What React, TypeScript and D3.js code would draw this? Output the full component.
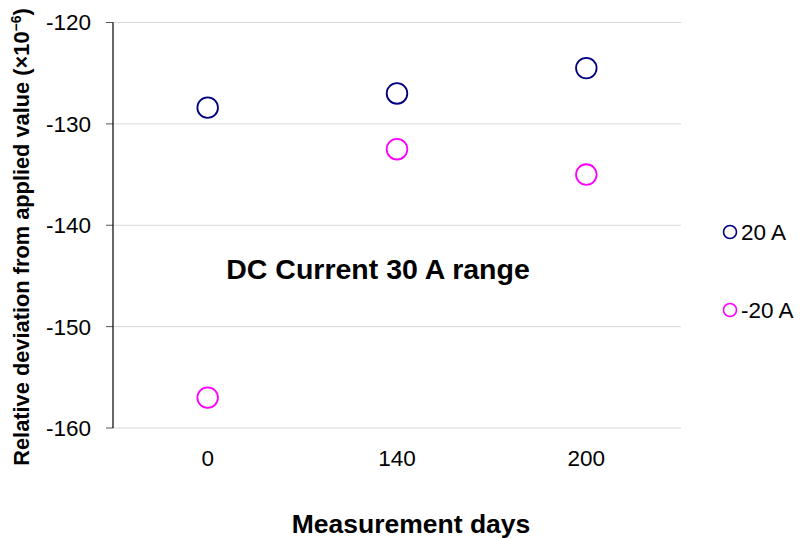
import React from "react";
import * as d3 from "d3";

const categories = ["0", "140", "200"];
const seriesNames = ["20 A", "-20 A"];
const seriesColors = ["#000080", "#FF00FF"];
const pos20 = [-128.4, -127.0, -124.5];
const neg20 = [-157.0, -132.5, -135.0];
const yTicks = [-160, -150, -140, -130, -120];

export default function App() {
  const W = 800, H = 539;
  const left = 113, right = 681, top = 22.5, bottom = 428;
  const x = d3.scaleBand<string>().domain(categories).range([left, right]);
  const y = d3.scaleLinear().domain([-160, -120]).range([bottom, top]);
  const series = [pos20, neg20];
  const font = "Arial, 'Liberation Sans', sans-serif";
  return (
    <svg width={W} height={H} style={{ position: "absolute", left: 0, top: 0 }} fontFamily={font}>
      <rect width={W} height={H} fill="#fff" />
      {yTicks.map((t) => (
        <g key={t}>
          <line x1={left} x2={right} y1={y(t)} y2={y(t)} stroke="#d9d9d9" strokeWidth={1} />
          <line x1={left - 7} x2={left} y1={y(t)} y2={y(t)} stroke="#555" strokeWidth={1} />
          <text x={91} y={y(t)} dy="0.35em" textAnchor="end" fontSize={22.5} fill="#000">{t}</text>
        </g>
      ))}
      <line x1={left} x2={left} y1={top} y2={bottom} stroke="#000" strokeWidth={1.2} />
      {categories.map((c) => (
        <text key={c} x={x(c)! + x.bandwidth() / 2} y={465.5} textAnchor="middle" fontSize={22.5} fill="#000">{c}</text>
      ))}
      {series.map((vals, si) =>
        vals.map((v, i) => (
          <circle key={si + "-" + i} cx={x(categories[i])! + x.bandwidth() / 2} cy={y(v)} r={10.3}
            fill="none" stroke={seriesColors[si]} strokeWidth={1.8} />
        ))
      )}
      <text x={378} y={279} textAnchor="middle" fontSize={28.5} fontWeight="bold" fill="#000">DC Current 30 A range</text>
      {seriesNames.map((n, i) => (
        <g key={n}>
          <circle cx={730} cy={232 + i * 78} r={6.5} fill="none" stroke={seriesColors[i]} strokeWidth={1.6} />
          <text x={741} y={232 + i * 78} dy="0.35em" fontSize={22.5} fill="#000">{n}</text>
        </g>
      ))}
      <text transform="translate(29,237) rotate(-90)" textAnchor="middle" fontSize={21.8} fontWeight="bold" fill="#000">
        Relative deviation from applied value (×10<tspan fontSize={14} dy={-8}>−6</tspan><tspan dy={8}>)</tspan>
      </text>
      <text x={411} y={533} textAnchor="middle" fontSize={26.5} fontWeight="bold" fill="#000">Measurement days</text>
    </svg>
  );
}
